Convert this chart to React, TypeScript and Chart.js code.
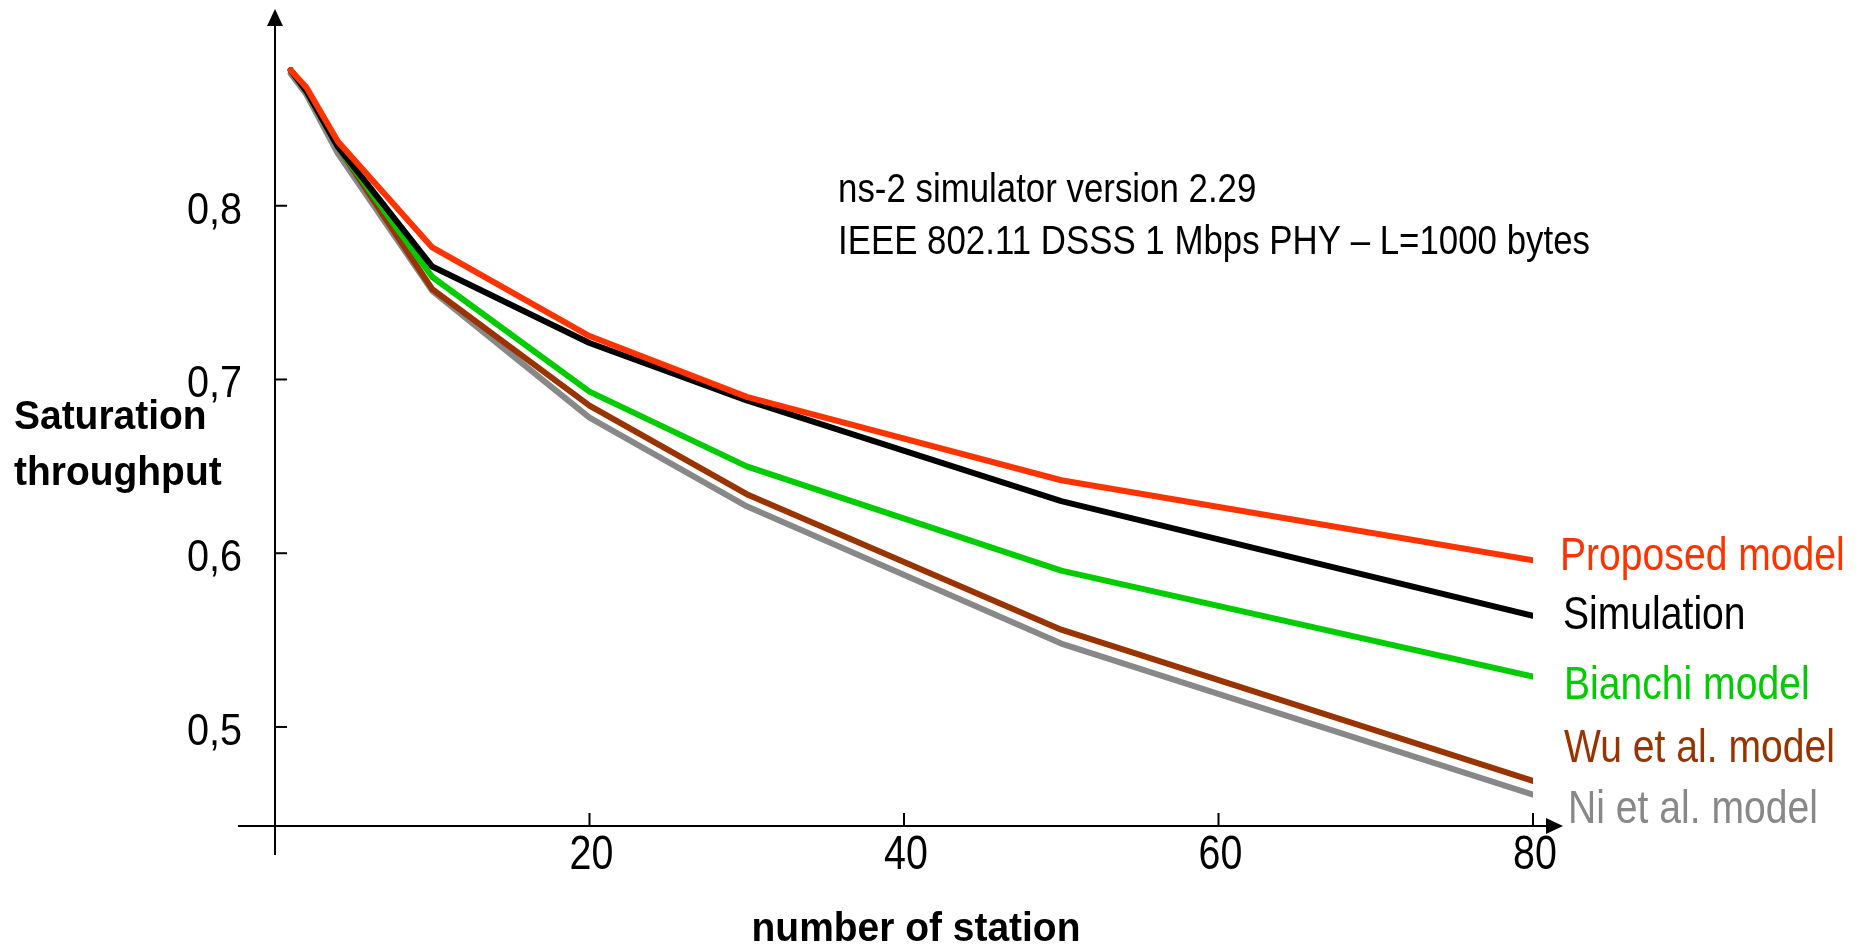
import React, { useEffect, useRef } from "react";
import { Chart, registerables } from "chart.js";

Chart.register(...registerables);

// ---- data ----
const stations = [1, 2, 4, 10, 20, 30, 50, 80];
const proposed = [0.878, 0.868, 0.837, 0.776, 0.725, 0.69, 0.642, 0.596];
const simulation = [0.878, 0.866, 0.834, 0.765, 0.721, 0.688, 0.63, 0.564];
const bianchi = [0.878, 0.866, 0.834, 0.759, 0.693, 0.65, 0.59, 0.529];
const wu = [0.878, 0.866, 0.834, 0.752, 0.685, 0.634, 0.556, 0.469];
const ni = [0.876, 0.864, 0.83, 0.751, 0.678, 0.627, 0.548, 0.461];

const seriesNames = ["Proposed model", "Simulation", "Bianchi model", "Wu et al. model", "Ni et al. model"];
const seriesColors = ["#ff3300", "#000000", "#00cc00", "#993300", "#888888"];
const seriesValues = [proposed, simulation, bianchi, wu, ni];

const xTicks = [20, 40, 60, 80];
const xTickLabels = ["20", "40", "60", "80"];
const yTicks = [0.5, 0.6, 0.7, 0.8];
const yTickLabels = ["0,5", "0,6", "0,7", "0,8"];

const yTitleLines = ["Saturation", "throughput"];
const xTitle = "number of station";
const noteLines = ["ns-2 simulator version 2.29", "IEEE 802.11 DSSS 1 Mbps PHY – L=1000 bytes"];

const FONT = '"Liberation Sans", Arial, Helvetica, sans-serif';

function txt(
  ctx: CanvasRenderingContext2D,
  s: string,
  x: number,
  y: number,
  font: string,
  color: string,
  align: CanvasTextAlign,
  sx: number
) {
  ctx.save();
  ctx.font = font;
  ctx.fillStyle = color;
  ctx.textBaseline = "alphabetic";
  ctx.textAlign = align;
  ctx.translate(x, y);
  ctx.scale(sx, 1);
  ctx.fillText(s, 0, 0);
  ctx.restore();
}

const decorPlugin = {
  id: "decor",
  afterDraw(chart: any) {
    const ctx: CanvasRenderingContext2D = chart.ctx;
    const xs = chart.scales.x;
    const ys = chart.scales.y;
    const x0 = xs.getPixelForValue(0);
    const yb = chart.chartArea.bottom;

    ctx.save();
    ctx.strokeStyle = "#000";
    ctx.fillStyle = "#000";
    ctx.lineWidth = 2;
    // y axis
    ctx.beginPath();
    ctx.moveTo(x0, 22);
    ctx.lineTo(x0, 855);
    ctx.stroke();
    ctx.beginPath();
    ctx.moveTo(x0, 9);
    ctx.lineTo(x0 - 8, 26);
    ctx.lineTo(x0 + 8, 26);
    ctx.closePath();
    ctx.fill();
    // x axis
    ctx.beginPath();
    ctx.moveTo(238, yb);
    ctx.lineTo(1550, yb);
    ctx.stroke();
    ctx.beginPath();
    ctx.moveTo(1563, yb);
    ctx.lineTo(1546, yb - 8);
    ctx.lineTo(1546, yb + 8);
    ctx.closePath();
    ctx.fill();
    // y ticks (inward)
    yTicks.forEach((v, i) => {
      const py = ys.getPixelForValue(v);
      ctx.beginPath();
      ctx.moveTo(x0, py);
      ctx.lineTo(x0 + 12, py);
      ctx.stroke();
      txt(ctx, yTickLabels[i], 242, py + 18, `45px ${FONT}`, "#000", "right", 0.88);
    });
    // x ticks (inward)
    xTicks.forEach((v, i) => {
      const px = xs.getPixelForValue(v);
      ctx.beginPath();
      ctx.moveTo(px, yb);
      ctx.lineTo(px, yb - 13);
      ctx.stroke();
      txt(ctx, xTickLabels[i], px + 2, 869, `48px ${FONT}`, "#000", "center", 0.82);
    });
    ctx.restore();

    // axis titles
    txt(ctx, yTitleLines[0], 14, 429, `bold 41px ${FONT}`, "#000", "left", 0.95);
    txt(ctx, yTitleLines[1], 14, 485, `bold 41px ${FONT}`, "#000", "left", 0.95);
    txt(ctx, xTitle, 916, 941, `bold 41px ${FONT}`, "#000", "center", 0.95);

    // note
    txt(ctx, noteLines[0], 838, 202, `41px ${FONT}`, "#000", "left", 0.85);
    txt(ctx, noteLines[1], 838, 254, `41px ${FONT}`, "#000", "left", 0.85);

    // series labels
    const labelBase = [570, 629, 699, 762, 823];
    const labelLeft = [1560, 1563, 1564, 1564, 1568];
    seriesNames.forEach((n, i) => {
      txt(ctx, n, labelLeft[i], labelBase[i], `46px ${FONT}`, seriesColors[i], "left", 0.85);
    });
  },
};

export default function App() {
  const ref = useRef<HTMLCanvasElement | null>(null);
  useEffect(() => {
    if (!ref.current) return;
    const chart = new Chart(ref.current, {
      type: "line",
      data: {
        datasets: seriesNames.map((name, i) => ({
          label: name,
          data: stations.map((s, j) => ({ x: s, y: seriesValues[i][j] })),
          borderColor: seriesColors[i],
          backgroundColor: seriesColors[i],
          borderWidth: 6,
          pointRadius: 0,
          tension: 0,
          borderJoinStyle: "round" as const,
          borderCapStyle: "round" as const,
          fill: false,
        })),
      },
      options: {
        animation: false,
        responsive: false,
        maintainAspectRatio: false,
        layout: { padding: { left: 275, right: 333, top: 32, bottom: 123 } },
        plugins: { legend: { display: false }, tooltip: { enabled: false } },
        scales: {
          x: { type: "linear", min: 0, max: 80, display: false },
          y: { type: "linear", min: 0.443, max: 0.9, display: false },
        },
      },
      plugins: [decorPlugin],
    });
    return () => chart.destroy();
  }, []);
  return (
    <div style={{ position: "absolute", left: 0, top: 0, width: 1866, height: 949, background: "#fff" }}>
      <canvas ref={ref} width={1866} height={949} />
    </div>
  );
}
